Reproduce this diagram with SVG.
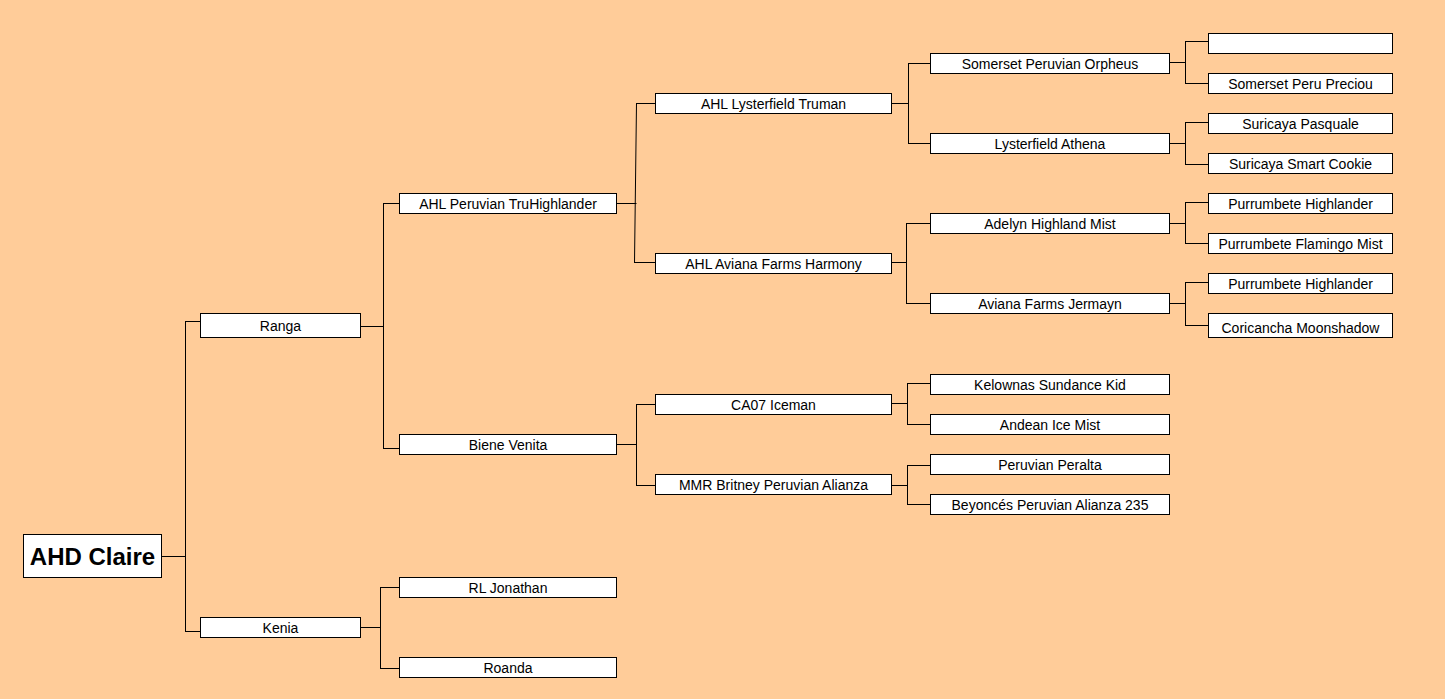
<svg xmlns="http://www.w3.org/2000/svg" width="1445" height="699" viewBox="0 0 1445 699">
<style>
.b{fill:#fff;stroke:#000;stroke-width:1}
.t{font-family:"Liberation Sans",Arial,sans-serif;font-size:14px;fill:#000;text-anchor:middle}
.tb{font-family:"Liberation Sans",Arial,sans-serif;font-size:24px;font-weight:bold;fill:#000;text-anchor:middle}
.c{fill:none;stroke:#000;stroke-width:1}
</style>
<rect x="0" y="0" width="1445" height="699" fill="#FFCC99"/>
<g id="connectors" class="c">
<path d="M161 556.5H185.5M185.5 321V632M185.5 321.5H200M185.5 631.5H200"/>
<path d="M360 326.5H383.5M383.5 203V449M383.5 203.5H399M383.5 448.5H399"/>
<path d="M360 627.5H380.5M380.5 587V669M380.5 587.5H399M380.5 668.5H399"/>
<path d="M616 203.5H636.5M636.5 103L634.5 263M636.5 103.5H655M634.5 262.5H655"/>
<path d="M616 444.5H636.5M636.5 404V486M636.5 404.5H655M636.5 485.5H655"/>
<path d="M891 103.5H908.5M908.5 63V144M908.5 63.5H930M908.5 143.5H930"/>
<path d="M891 262.5H906.5M906.5 223V304M906.5 223.5H930M906.5 303.5H930"/>
<path d="M891 403.5H907.5M907.5 383V425M907.5 383.5H930M907.5 424.5H930"/>
<path d="M891 485.5H907.5M907.5 465V505M907.5 465.5H930M907.5 504.5H930"/>
<path d="M1169 62.5H1185.5M1185.5 41V84M1185.5 41.5H1208M1185.5 83.5H1208"/>
<path d="M1169 143.5H1185.5M1185.5 122V165M1185.5 122.5H1208M1185.5 164.5H1208"/>
<path d="M1169 223.5H1185.5M1185.5 202V244M1185.5 202.5H1208M1185.5 243.5H1208"/>
<path d="M1169 303.5H1185.5M1185.5 282V326M1185.5 282.5H1208M1185.5 325.5H1208"/>
</g>
<g id="n-claire"><rect class="b" x="23.5" y="534.5" width="138" height="43"/><text class="tb" x="92.5" y="565">AHD Claire</text></g>
<g id="n-ranga"><rect class="b" x="200.5" y="313.5" width="160" height="24"/><text class="t" x="280.5" y="331">Ranga</text></g>
<g id="n-kenia"><rect class="b" x="200.5" y="617.5" width="160" height="20"/><text class="t" x="280.5" y="633">Kenia</text></g>
<g id="n-truhighlander"><rect class="b" x="399.5" y="193.5" width="217" height="20"/><text class="t" x="508" y="209">AHL Peruvian TruHighlander</text></g>
<g id="n-biene"><rect class="b" x="399.5" y="434.5" width="217" height="20"/><text class="t" x="508" y="450">Biene Venita</text></g>
<g id="n-jonathan"><rect class="b" x="399.5" y="577.5" width="217" height="20"/><text class="t" x="508" y="593">RL Jonathan</text></g>
<g id="n-roanda"><rect class="b" x="399.5" y="657.5" width="217" height="20"/><text class="t" x="508" y="673">Roanda</text></g>
<g id="n-truman"><rect class="b" x="655.5" y="93.5" width="236" height="20"/><text class="t" x="773.5" y="109">AHL Lysterfield Truman</text></g>
<g id="n-harmony"><rect class="b" x="655.5" y="253.5" width="236" height="20"/><text class="t" x="773.5" y="269">AHL Aviana Farms Harmony</text></g>
<g id="n-iceman"><rect class="b" x="655.5" y="394.5" width="236" height="20"/><text class="t" x="773.5" y="410">CA07 Iceman</text></g>
<g id="n-britney"><rect class="b" x="655.5" y="474.5" width="236" height="20"/><text class="t" x="773.5" y="490">MMR Britney Peruvian Alianza</text></g>
<g id="n-orpheus"><rect class="b" x="930.5" y="53.5" width="239" height="20"/><text class="t" x="1050" y="69">Somerset Peruvian Orpheus</text></g>
<g id="n-athena"><rect class="b" x="930.5" y="133.5" width="239" height="20"/><text class="t" x="1050" y="149">Lysterfield Athena</text></g>
<g id="n-adelyn"><rect class="b" x="930.5" y="213.5" width="239" height="20"/><text class="t" x="1050" y="229">Adelyn Highland Mist</text></g>
<g id="n-jermayn"><rect class="b" x="930.5" y="293.5" width="239" height="20"/><text class="t" x="1050" y="309">Aviana Farms Jermayn</text></g>
<g id="n-kelownas"><rect class="b" x="930.5" y="374.5" width="239" height="20"/><text class="t" x="1050" y="390">Kelownas Sundance Kid</text></g>
<g id="n-andean"><rect class="b" x="930.5" y="414.5" width="239" height="20"/><text class="t" x="1050" y="430">Andean Ice Mist</text></g>
<g id="n-peralta"><rect class="b" x="930.5" y="454.5" width="239" height="20"/><text class="t" x="1050" y="470">Peruvian Peralta</text></g>
<g id="n-beyonces"><rect class="b" x="930.5" y="494.5" width="239" height="20"/><text class="t" x="1050" y="510">Beyoncés Peruvian Alianza 235</text></g>
<g id="n-empty"><rect class="b" x="1208.5" y="33.5" width="184" height="20"/></g>
<g id="n-preciou"><rect class="b" x="1208.5" y="73.5" width="184" height="20"/><text class="t" x="1300.5" y="89">Somerset Peru Preciou</text></g>
<g id="n-pasquale"><rect class="b" x="1208.5" y="113.5" width="184" height="20"/><text class="t" x="1300.5" y="129">Suricaya Pasquale</text></g>
<g id="n-cookie"><rect class="b" x="1208.5" y="153.5" width="184" height="20"/><text class="t" x="1300.5" y="169">Suricaya Smart Cookie</text></g>
<g id="n-purrumbete1"><rect class="b" x="1208.5" y="193.5" width="184" height="20"/><text class="t" x="1300.5" y="209">Purrumbete Highlander</text></g>
<g id="n-flamingo"><rect class="b" x="1208.5" y="233.5" width="184" height="20"/><text class="t" x="1300.5" y="249">Purrumbete Flamingo Mist</text></g>
<g id="n-purrumbete2"><rect class="b" x="1208.5" y="273.5" width="184" height="20"/><text class="t" x="1300.5" y="289">Purrumbete Highlander</text></g>
<g id="n-coricancha"><rect class="b" x="1208.5" y="313.5" width="184" height="24"/><text class="t" x="1300.5" y="333">Coricancha Moonshadow</text></g>
</svg>
